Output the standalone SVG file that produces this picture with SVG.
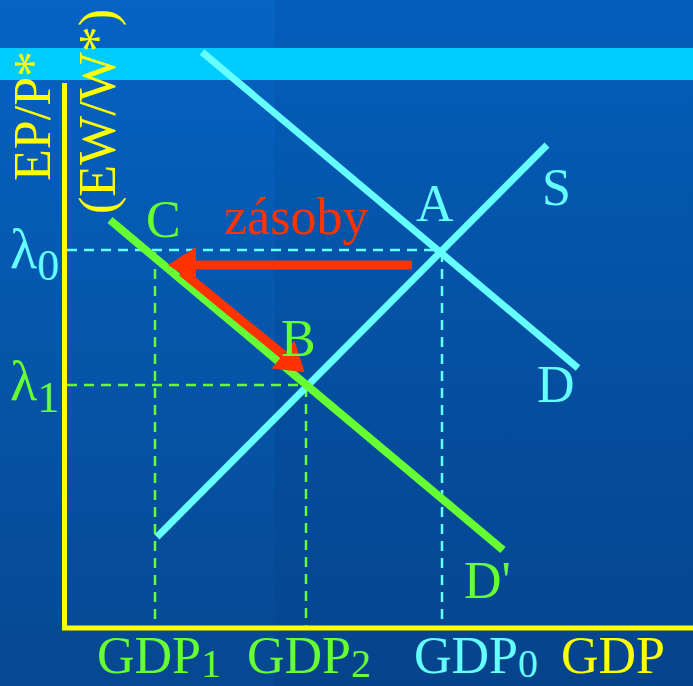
<svg xmlns="http://www.w3.org/2000/svg" width="693" height="686" viewBox="0 0 693 686">
<defs>
<linearGradient id="bg" x1="0" y1="0" x2="0" y2="1">
<stop offset="0" stop-color="#0563c3"/>
<stop offset="1" stop-color="#064891"/>
</linearGradient>
<marker id="ah" markerUnits="userSpaceOnUse" markerWidth="28" markerHeight="36" refX="0" refY="18" orient="auto" viewBox="0 0 28 36">
<path d="M0,0 L28,18 L0,36 z" fill="#ff3300"/>
</marker>
<style>
text{font-family:"Liberation Serif","Times New Roman",serif;font-size:52px}
.cy{fill:#66ffff}.gr{fill:#66ff33}.ye{fill:#ffff00}.rd{fill:#ff3300}
.dc{stroke:#66ffff;stroke-width:2.5;stroke-dasharray:10 7;fill:none}
.dg{stroke:#66ff33;stroke-width:2.5;stroke-dasharray:10 7;fill:none}
.sub{font-size:44px}
.gsub{font-size:40px}
.lam{font-size:56px}
</style>
</defs>
<rect width="693" height="686" fill="url(#bg)"/>
<rect x="275" y="0" width="418" height="686" fill="#000030" opacity="0.05"/>
<rect x="0" y="48" width="693" height="32" fill="#00ccff"/>

<g id="axes">
<line x1="64.5" y1="83" x2="64.5" y2="630" stroke="#ffff00" stroke-width="5"/>
<line x1="62" y1="628" x2="693" y2="628" stroke="#ffff00" stroke-width="5"/>
</g>

<g id="connectors">
<line class="dc" x1="67" y1="250" x2="440" y2="250"/>
<line class="dc" x1="442" y1="252" x2="442" y2="626"/>
<line class="dg" x1="67" y1="385" x2="306" y2="385"/>
<line class="dg" x1="155" y1="252" x2="155" y2="626"/>
<line class="dg" x1="306" y1="387" x2="306" y2="626"/>
</g>

<g id="curve-D"><line x1="202" y1="52" x2="578" y2="368" stroke="#66ffff" stroke-width="7"/></g>
<g id="curve-S"><line x1="157" y1="537" x2="547" y2="145" stroke="#66ffff" stroke-width="7"/></g>
<g id="curve-D2"><line x1="110" y1="220" x2="503" y2="550" stroke="#66ff33" stroke-width="8"/></g>

<g id="arrows">
<line x1="412" y1="265" x2="196" y2="265" stroke="#ff3300" stroke-width="9" marker-end="url(#ah)"/>
<line x1="182" y1="272" x2="283" y2="354.5" stroke="#ff3300" stroke-width="9" marker-end="url(#ah)"/>
</g>

<g id="labels">
<text class="ye" transform="translate(50,181) rotate(-90)">EP/P*</text>
<text class="ye" transform="translate(115,214) rotate(-90)">(EW/W*)</text>
<text class="gr" x="146" y="237">C</text>
<text class="rd" x="224" y="234">zásoby</text>
<text class="cy" x="416" y="221">A</text>
<text class="cy" x="542" y="205">S</text>
<text class="cy" x="537" y="402">D</text>
<text class="gr" x="281" y="356">B</text>
<text class="gr" x="464" y="598">D'</text>
<text class="cy lam" x="10" y="268">λ<tspan class="sub" dy="12">0</tspan></text>
<text class="gr lam" x="10" y="400">λ<tspan class="sub" dy="12">1</tspan></text>
<text class="gr" x="97" y="673">GDP<tspan class="gsub" dy="4">1</tspan></text>
<text class="gr" x="247" y="673">GDP<tspan class="gsub" dy="4">2</tspan></text>
<text class="cy" x="414" y="673">GDP<tspan class="gsub" dy="4">0</tspan></text>
<text class="ye" x="561" y="673">GDP</text>
</g>
</svg>
